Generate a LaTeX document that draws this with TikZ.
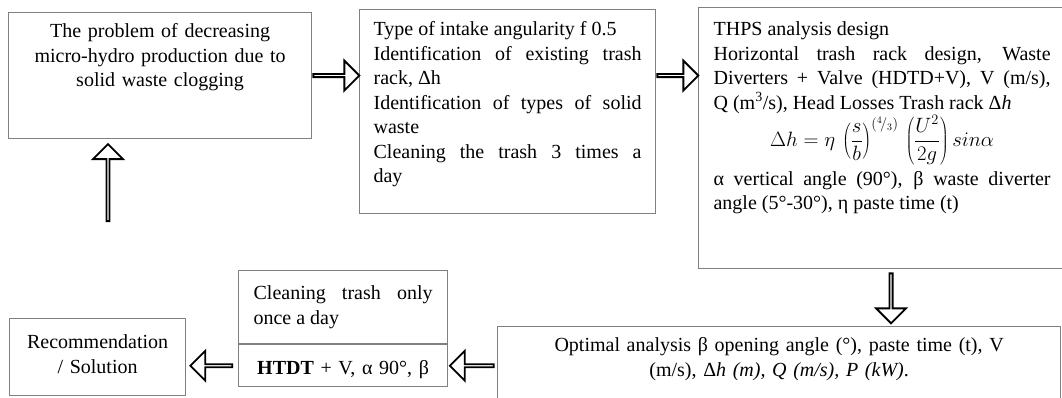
\documentclass[tikz,border=0pt]{standalone}
\usepackage{fontspec}
\setmainfont{Liberation Serif}
\usetikzlibrary{positioning,shapes.arrows}

\definecolor{boxgray}{RGB}{128,128,128}
\hyphenpenalty=10000
\exhyphenpenalty=10000

\tikzset{
  box/.style={draw=boxgray, line width=1.2pt, anchor=north west, inner ysep=0pt,
    font=\fontsize{20}{24.5}\selectfont},
  hollow/.style={single arrow, draw=black, fill=white, line width=1.8pt, inner sep=0pt,
    minimum width=30pt, single arrow head extend=8pt, sloped, allow upside down},
}

\begin{document}
\begin{tikzpicture}[x=1pt,y=-1pt]
\useasboundingbox (0,0) rectangle (1062,398);

\node[box, align=center, text width=283pt, inner xsep=10pt, text height=25pt, text depth=101pt] (problem) at (8,12)
  {The problem of decreasing\\micro-hydro production due to\\solid waste clogging};

\node[box, align=justify, text width=268pt, inner xsep=14pt, text height=26pt, text depth=178pt] (intake) at (359,9)
  {Type of intake angularity f 0.5\par
   Identification of existing trash\linebreak rack, Δh\par
   Identification of types of solid\linebreak waste\par
   Cleaning the trash 3 times a\linebreak day};

\node[box, align=justify, text width=337pt, inner xsep=15pt, text height=28pt, text depth=233pt] (thps) at (698,7)
  {THPS analysis design\par
   Horizontal trash rack design, Waste\linebreak Diverters + Valve (HDTD+V), V (m/s),\linebreak Q (m\textsuperscript{3}/s), Head Losses Trash rack Δ\textit{h}\par
   \vspace{7pt}
   \centerline{\raisebox{0pt}[25pt][24pt]{$\displaystyle \Delta h=\eta\,\left(\frac{s}{b}\right)^{({}^{4}\!/{}_{3})}\,\left(\frac{U^{2}}{2g}\right)sin\alpha$}}
   α vertical angle (90°), β waste diverter\linebreak angle (5°-30°), η paste time (t)};

\node[box, align=center, text width=490pt, inner xsep=36.5pt, text height=25pt, text depth=54pt] (optimal) at (497,326)
  {Optimal analysis β opening angle (°), paste time (t), V\\(m/s), Δ\textit{h (m), Q (m/s), P (kW)}.};

\node[box, align=justify, text width=179pt, inner xsep=15pt, text height=29pt, text depth=44pt] (clean) at (238,270)
  {Cleaning trash only\linebreak once a day};
\node[box, below=0pt of clean, align=center, text width=179pt, inner xsep=15pt, text height=30pt, text depth=12pt] (htdt)
  {\textbf{HTDT} + V, α 90°, β};

\node[box, align=center, text width=156pt, inner xsep=10pt, text height=30pt, text depth=47pt] (result) at (9,318)
  {Recommendation\\/ Solution};

% block arrows
\path (problem.east) -- (problem.east -| intake.west) node[hollow, midway, minimum height=46pt] {};
\path (intake.east |- problem.east) -- (thps.west |- problem.east) node[hollow, midway, minimum height=41pt] {};
\path ([xshift=9pt]thps.south) -- ([xshift=9pt]thps.south |- optimal.north) node[hollow, midway, minimum height=50pt] {};
\path (htdt.east -| optimal.west) -- (htdt.east) node[hollow, midway, minimum height=44pt] {};
\path (htdt.west) -- (htdt.west -| result.east) node[hollow, midway, minimum height=42pt] {};

\coordinate (upfoot) at (108,222);
\path (upfoot) -- (upfoot |- problem.south) node[hollow, pos=0, anchor=tail, minimum height=77pt] {};
\end{tikzpicture}
\end{document}
